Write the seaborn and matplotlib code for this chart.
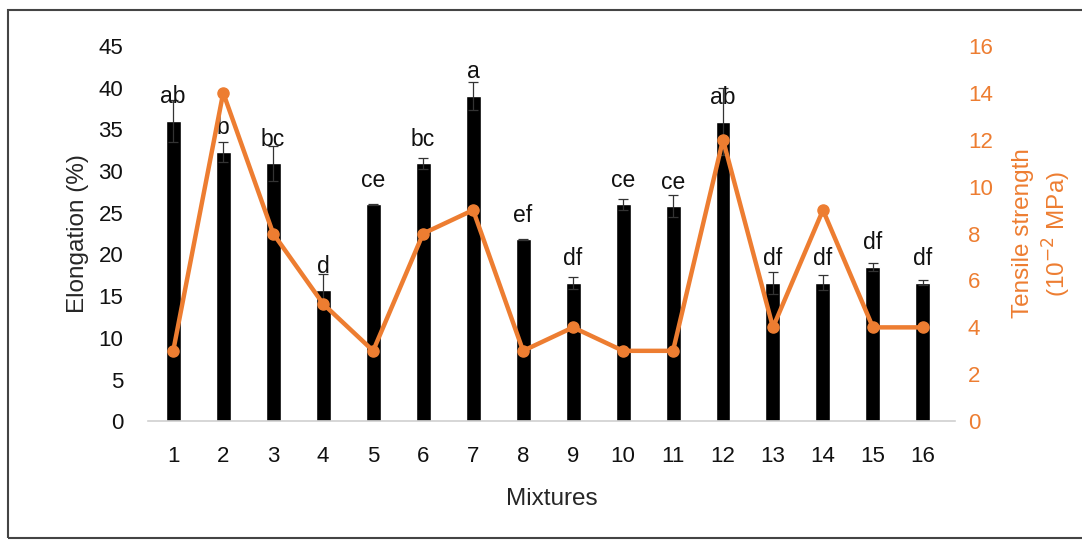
import matplotlib
matplotlib.use('Agg')
import matplotlib.pyplot as plt
import seaborn as sns
import pandas as pd
import numpy as np

mixtures = [str(i) for i in range(1, 17)]
elongation = [36.0, 32.3, 30.9, 15.7, 26.0, 30.9, 39.0, 21.8,
              16.6, 26.0, 25.8, 35.9, 16.6, 16.6, 18.5, 16.6]
elong_err = [2.5, 1.2, 2.1, 1.9, 0.1, 0.7, 1.7, 0.1,
             0.7, 0.65, 1.35, 4.0, 1.3, 0.9, 0.5, 0.3]
tensile = [3, 14, 8, 5, 3, 8, 9, 3, 4, 3, 3, 12, 4, 9, 4, 4]
letters = ['ab', 'b', 'bc', 'd', 'ce', 'bc', 'a', 'ef',
           'df', 'ce', 'ce', 'ab', 'df', 'df', 'df', 'df']

sns.set_theme(style='white')
plt.rcParams['font.family'] = ['Liberation Sans', 'DejaVu Sans']

orange = '#ED7D31'
df = pd.DataFrame({'mix': mixtures, 'elong': elongation, 'ts': tensile})

fig = plt.figure(figsize=(10.82, 5.4), dpi=100)
ax = fig.add_axes([0.137, 0.22, 0.746, 0.695])

sns.barplot(data=df, x='mix', y='elong', color='black', width=0.3,
            saturation=1, ax=ax, errorbar=None)
pos = np.arange(len(mixtures))
ax.errorbar(pos, elongation, yerr=elong_err, fmt='none', ecolor='#333333',
            elinewidth=0.9, capsize=3.5, capthick=0.9, zorder=3)
for p, v, t in zip(pos, elongation, letters):
    ax.text(p, v + 2.1, t, ha='center', va='baseline', fontsize=16.5, color='#111111')

ax.set_ylim(0, 45)
ax.set_yticks(range(0, 46, 5))
ax.set_xlim(-0.5, 15.65)
ax.set_xlabel('Mixtures', fontsize=17.5, labelpad=15)
ax.set_ylabel('Elongation (%)', fontsize=17.5, labelpad=7)
ax.tick_params(axis='both', labelsize=16, length=0, colors='#111111')
ax.tick_params(axis='x', pad=18)
ax.tick_params(axis='y', pad=18)
for s in ['top', 'right', 'left']:
    ax.spines[s].set_visible(False)
ax.spines['bottom'].set_color('#d0d0d0')
ax.spines['bottom'].set_linewidth(1.2)

ax2 = ax.twinx()
ax2.plot(pos, tensile, color=orange, lw=3.2, marker='o', ms=8, zorder=4)
ax2.set_ylim(0, 16)
ax2.set_yticks(range(0, 17, 2))
ax2.tick_params(axis='y', labelsize=16, colors=orange, length=0, pad=9)
ax2.set_ylabel('Tensile strength\n(10$^{-2}$ MPa)', fontsize=17.5, color=orange,
               labelpad=14, linespacing=1.25)
for s in ax2.spines.values():
    s.set_visible(False)
ax2.set_xlim(-0.5, 15.65)

border = plt.Rectangle((0.007, 0.004), 1.2, 0.978, transform=fig.transFigure,
                       fill=False, edgecolor='#444444', lw=1.5)
fig.patches.append(border)

fig.savefig('out.png', dpi=100)
